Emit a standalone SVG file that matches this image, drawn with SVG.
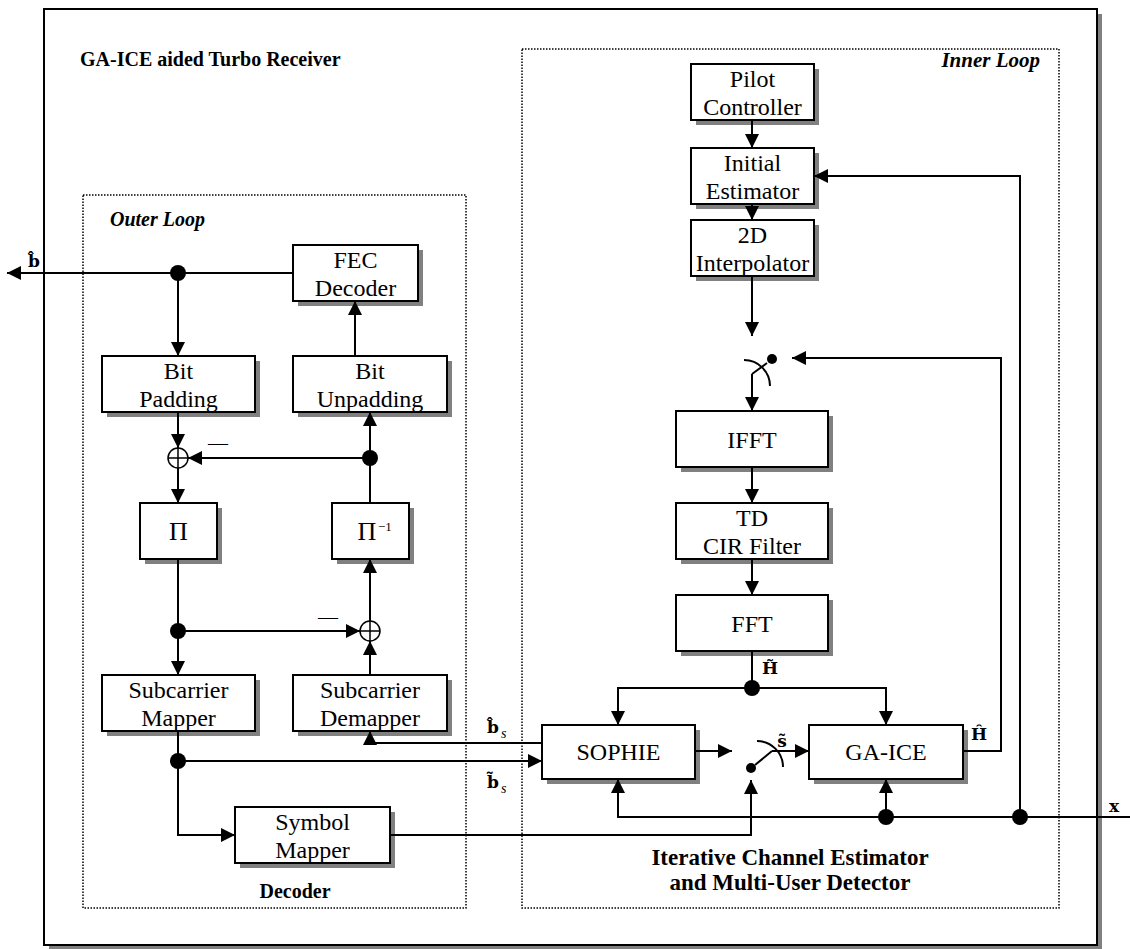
<svg xmlns="http://www.w3.org/2000/svg" width="1130" height="949" viewBox="0 0 1130 949">
  <style>
    .box{fill:#fff;stroke:#000;stroke-width:2}
    .sh{fill:#808080}
    .ln{fill:none;stroke:#000;stroke-width:2}
    .ar{marker-end:url(#ah)}
    .dash{fill:none;stroke:#000;stroke-width:1.5;stroke-dasharray:1.5 1.5}
    .t{font-family:"Liberation Serif","Times New Roman",serif;font-size:24px;text-anchor:middle;fill:#000}
    .h{font-family:"Liberation Serif","Times New Roman",serif;font-weight:bold;font-size:20px;fill:#000}
    .hi{font-family:"Liberation Serif","Times New Roman",serif;font-weight:bold;font-style:italic;font-size:20px;fill:#000}
    .sym{font-family:"DejaVu Serif","Liberation Serif",serif;font-weight:bold;font-size:17px;text-anchor:middle;fill:#000}
    .sub{font-family:"Liberation Serif","Times New Roman",serif;font-style:italic;font-size:14px;fill:#000}
    .dot{fill:#000}
  </style>
  <defs>
    <marker id="ah" viewBox="0 0 14 14" markerWidth="14" markerHeight="14" refX="14" refY="7" orient="auto" markerUnits="userSpaceOnUse">
      <path d="M0,0 L14,7 L0,14 z" fill="#000"/>
    </marker>
  </defs>

  <!-- outer frame with drop shadow -->
  <g id="frame">
    <rect x="49" y="14" width="1053" height="936" class="sh"/>
    <rect x="44" y="9" width="1053" height="936" class="box"/>
  </g>

  <!-- loop regions -->
  <g id="outer-loop">
    <rect x="83" y="195" width="383" height="713" class="dash"/>
    <text x="110" y="226" class="hi">Outer Loop</text>
    <text x="295" y="898" class="h" text-anchor="middle">Decoder</text>
  </g>
  <g id="inner-loop">
    <rect x="522" y="49" width="537" height="859" class="dash"/>
    <text x="1040" y="67" class="hi" text-anchor="end" style="font-size:21px">Inner Loop</text>
    <text x="790" y="865" class="h" text-anchor="middle" style="font-size:23px">Iterative Channel Estimator</text>
    <text x="790" y="890" class="h" text-anchor="middle" style="font-size:23px">and Multi-User Detector</text>
  </g>
  <text id="title" x="80" y="66" class="h">GA-ICE aided Turbo Receiver</text>

  <!-- decoder blocks -->
  <g id="fec-decoder">
    <rect x="298" y="250" width="125" height="56" class="sh"/>
    <rect x="293" y="245" width="125" height="56" class="box"/>
    <text x="355.5" y="268" class="t">FEC</text>
    <text x="355.5" y="296" class="t">Decoder</text>
  </g>
  <g id="bit-padding">
    <rect x="107" y="361" width="153" height="56" class="sh"/>
    <rect x="102" y="356" width="153" height="56" class="box"/>
    <text x="178.5" y="379" class="t">Bit</text>
    <text x="178.5" y="407" class="t">Padding</text>
  </g>
  <g id="bit-unpadding">
    <rect x="298" y="361" width="154" height="56" class="sh"/>
    <rect x="293" y="356" width="154" height="56" class="box"/>
    <text x="370" y="379" class="t">Bit</text>
    <text x="370" y="407" class="t">Unpadding</text>
  </g>
  <g id="interleaver">
    <rect x="145" y="508" width="77" height="56" class="sh"/>
    <rect x="140" y="503" width="77" height="56" class="box"/>
    <text x="178.5" y="540" class="t" style="font-size:26px">Π</text>
  </g>
  <g id="deinterleaver">
    <rect x="337" y="508" width="77" height="56" class="sh"/>
    <rect x="332" y="503" width="77" height="56" class="box"/>
    <text x="367" y="540" class="t" style="font-size:26px">Π</text>
    <text x="378" y="531" class="t" style="font-size:13px;text-anchor:start">−1</text>
  </g>
  <g id="subcarrier-mapper">
    <rect x="107" y="680" width="153" height="56" class="sh"/>
    <rect x="102" y="675" width="153" height="56" class="box"/>
    <text x="178.5" y="698" class="t">Subcarrier</text>
    <text x="178.5" y="726" class="t">Mapper</text>
  </g>
  <g id="subcarrier-demapper">
    <rect x="298" y="680" width="154" height="56" class="sh"/>
    <rect x="293" y="675" width="154" height="56" class="box"/>
    <text x="370" y="698" class="t">Subcarrier</text>
    <text x="370" y="726" class="t">Demapper</text>
  </g>
  <g id="symbol-mapper">
    <rect x="240" y="812" width="155" height="56" class="sh"/>
    <rect x="235" y="807" width="155" height="56" class="box"/>
    <text x="312.5" y="830" class="t">Symbol</text>
    <text x="312.5" y="858" class="t">Mapper</text>
  </g>

  <!-- channel estimator / detector blocks -->
  <g id="pilot-controller">
    <rect x="696" y="69" width="123" height="56" class="sh"/>
    <rect x="691" y="64" width="123" height="56" class="box"/>
    <text x="752.5" y="87" class="t">Pilot</text>
    <text x="752.5" y="115" class="t">Controller</text>
  </g>
  <g id="initial-estimator">
    <rect x="696" y="153" width="123" height="56" class="sh"/>
    <rect x="691" y="148" width="123" height="56" class="box"/>
    <text x="752.5" y="171" class="t">Initial</text>
    <text x="752.5" y="199" class="t">Estimator</text>
  </g>
  <g id="interpolator-2d">
    <rect x="696" y="225" width="123" height="56" class="sh"/>
    <rect x="691" y="220" width="123" height="56" class="box"/>
    <text x="752.5" y="243" class="t">2D</text>
    <text x="752.5" y="271" class="t">Interpolator</text>
  </g>
  <g id="ifft">
    <rect x="681" y="416" width="152" height="56" class="sh"/>
    <rect x="676" y="411" width="152" height="56" class="box"/>
    <text x="752" y="448" class="t">IFFT</text>
  </g>
  <g id="td-cir-filter">
    <rect x="681" y="508" width="152" height="56" class="sh"/>
    <rect x="676" y="503" width="152" height="56" class="box"/>
    <text x="752" y="526" class="t">TD</text>
    <text x="752" y="554" class="t">CIR Filter</text>
  </g>
  <g id="fft">
    <rect x="681" y="600" width="152" height="56" class="sh"/>
    <rect x="676" y="595" width="152" height="56" class="box"/>
    <text x="752" y="632" class="t">FFT</text>
  </g>
  <g id="sophie">
    <rect x="547" y="730" width="153" height="54" class="sh"/>
    <rect x="542" y="725" width="153" height="54" class="box"/>
    <text x="618.5" y="760" class="t">SOPHIE</text>
  </g>
  <g id="ga-ice">
    <rect x="814" y="730" width="154" height="54" class="sh"/>
    <rect x="809" y="725" width="154" height="54" class="box"/>
    <text x="886" y="760" class="t">GA-ICE</text>
  </g>

  <!-- connectors -->
  <g id="connectors">
    <!-- decoder output and feedback -->
    <path d="M293,273 H7" class="ln ar"/>
    <path d="M178,273 V356" class="ln ar"/>
    <path d="M178,412 V448" class="ln ar"/>
    <path d="M178,468 V503" class="ln ar"/>
    <path d="M178,559 V675" class="ln ar"/>
    <path d="M178,631 H360" class="ln ar"/>
    <path d="M370,675 V641" class="ln ar"/>
    <path d="M370,621 V559" class="ln ar"/>
    <path d="M370,503 V412" class="ln ar"/>
    <path d="M370,458 H188" class="ln ar"/>
    <path d="M355,356 V301" class="ln ar"/>
    <path d="M178,731 V835 H235" class="ln ar"/>
    <path d="M178,761 H542" class="ln ar"/>
    <path d="M542,743 H370 V731" class="ln ar"/>
    <path d="M390,835 H751 V780" class="ln ar"/>

    <!-- channel estimation chain -->
    <path d="M752,120 V148" class="ln ar"/>
    <path d="M752,204 V220" class="ln ar"/>
    <path d="M752,276 V336" class="ln ar"/>
    <path d="M752,374 V411" class="ln ar"/>
    <path d="M752,467 V503" class="ln ar"/>
    <path d="M752,559 V595" class="ln ar"/>
    <path d="M752,651 V688" class="ln"/>
    <path d="M618,725 V688 H886 V725" class="ln"/>
    <path d="M618,705 V725" class="ln ar"/>
    <path d="M886,705 V725" class="ln ar"/>

    <!-- detector / estimator interaction -->
    <path d="M695,751 H732" class="ln ar"/>
    <path d="M772,751 H809" class="ln ar"/>
    <path d="M963,751 H1001 V358 H792" class="ln ar"/>
    <path d="M1130,817 H618 V779" class="ln ar"/>
    <path d="M886,817 V779" class="ln ar"/>
    <path d="M1020,817 V176 H814" class="ln ar"/>

    <!-- switches -->
    <path d="M752,374 L767,363" class="ln"/>
    <path d="M744,360 A26,26 0 0 1 770,386" class="ln"/>
    <circle cx="772" cy="359" r="5" class="dot"/>
    <path d="M755,765 L772,751" class="ln"/>
    <path d="M757,741 A26,26 0 0 1 783,767" class="ln"/>
    <circle cx="751" cy="768" r="5" class="dot"/>

    <!-- summing nodes -->
    <circle cx="178" cy="458" r="10" class="ln" style="stroke-width:1.5"/>
    <path d="M168,458 H188 M178,448 V468" class="ln" style="stroke-width:1.5"/>
    <circle cx="370" cy="631" r="10" class="ln" style="stroke-width:1.5"/>
    <path d="M360,631 H380 M370,621 V641" class="ln" style="stroke-width:1.5"/>
    <text x="218" y="450" class="t" style="font-size:20px">—</text>
    <text x="328" y="624" class="t" style="font-size:20px">—</text>

    <!-- junctions -->
    <circle cx="178" cy="273" r="8" class="dot"/>
    <circle cx="370" cy="458" r="8" class="dot"/>
    <circle cx="178" cy="631" r="8" class="dot"/>
    <circle cx="178" cy="761" r="8" class="dot"/>
    <circle cx="752" cy="688" r="8" class="dot"/>
    <circle cx="886" cy="817" r="8" class="dot"/>
    <circle cx="1020" cy="817" r="8" class="dot"/>
  </g>

  <!-- signal labels -->
  <g id="labels">
    <text x="34" y="267" class="sym">b̂</text>
    <text x="493" y="733" class="sym">b̂</text>
    <text x="501" y="738" class="sub">s</text>
    <text x="493" y="788" class="sym">b̃</text>
    <text x="501" y="793" class="sub">s</text>
    <text x="782" y="747" class="sym">s̃</text>
    <text x="979" y="740" class="sym">Ĥ</text>
    <text x="770" y="674" class="sym">H̃</text>
    <text x="1114" y="812" class="sym">x</text>
  </g>
</svg>
